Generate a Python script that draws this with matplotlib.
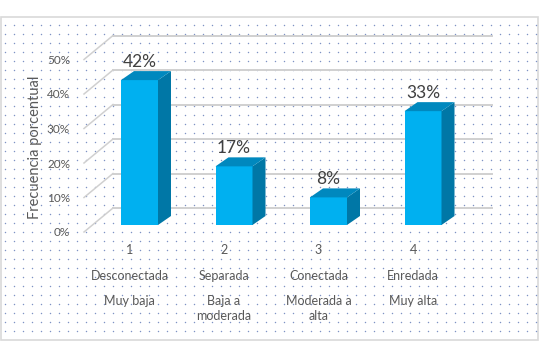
import numpy as np
import matplotlib
matplotlib.use("Agg")
import matplotlib.pyplot as plt
from matplotlib.patches import Polygon, Rectangle

plt.rcParams['font.family'] = ['Lato', 'DejaVu Sans']

# data
codes = ["1", "2", "3", "4"]
names = ["Desconectada", "Separada", "Conectada", "Enredada"]
levels = ["Muy baja", "Baja a\nmoderada", "Moderada a\nalta", "Muy alta"]
values = [0.42, 0.17, 0.08, 0.33]
value_labels = ["42%", "17%", "8%", "33%"]
yticks = [0.0, 0.1, 0.2, 0.3, 0.4, 0.5]
ytick_labels = ["0%", "10%", "20%", "30%", "40%", "50%"]

W, H = 540, 350
# pixel layout of the front plane: bar 0 centre and the 0% baseline
X0, STEP = 139.5, 94.5
Y0, SCALE = 225.0, 345.0


def px_x(px):
    return (px - X0) / STEP


def px_y(py):
    return (Y0 - py) / SCALE


def dx(px):
    return px / STEP


def dy(px):
    return px / SCALE


front = "#00B0F0"
side = "#0077A6"
top = "#0088BE"
txt = "#595959"
grid = "#D0D0D0"

fig = plt.figure(figsize=(W / 100, H / 100), dpi=100)
ax = fig.add_axes([0, 0, 1, 1])
ax.set_xlim(px_x(0), px_x(W))
ax.set_ylim(px_y(H), px_y(0))
ax.axis("off")

# chart area frame with dotted fill
ax.add_patch(Rectangle((px_x(1), px_y(340)), dx(537), dy(323),
                       facecolor="white", edgecolor="#D9D9D9", lw=1.2, zorder=0))
gx, gy = np.meshgrid(np.arange(5, 537, 9), np.arange(25, 338, 9))
ax.scatter(px_x(gx.ravel()), px_y(gy.ravel()), s=1.1, c="#7F92C4",
           linewidths=0, zorder=1)

# walls: back gridlines + left-wall diagonals
for v in yticks:
    back = v + dy(17)
    ax.plot([px_x(113), px_x(492)], [back, back], color=grid, lw=1.4, zorder=2)
    ax.plot([px_x(84), px_x(113)], [v - dy(7), back], color=grid, lw=1.1, zorder=2)

for v, lab in zip(yticks, ytick_labels):
    ax.text(px_x(70), v - dy(8), lab, ha="right", va="center",
            fontsize=8.5, color=txt, zorder=3)

ax.text(px_x(35), px_y(147), "Frecuencia porcentual", rotation=90,
        ha="center", va="center", fontsize=10.5, color=txt, zorder=3)

# 3D-looking bars
bw = dx(37)
ddx, ddy = dx(13), dy(9)
x = np.arange(len(values))
ax.bar(x, values, width=bw, color=front, zorder=5)
for xi, v in zip(x, values):
    l, r = xi - bw / 2, xi + bw / 2
    ax.add_patch(Polygon([(r, 0), (r + ddx, ddy), (r + ddx, v + ddy), (r, v)],
                         closed=True, facecolor=side, edgecolor="none", zorder=5))
    ax.add_patch(Polygon([(l, v), (r, v), (r + ddx, v + ddy), (l + ddx, v + ddy)],
                         closed=True, facecolor=top, edgecolor="none", zorder=5))

for xi, v, lab in zip(x, values, value_labels):
    ax.text(xi, v + dy(18), lab, ha="center", va="center",
            fontsize=12.5, color="#404040", zorder=6)

# category labels
for xi, c, n, lv in zip(x, codes, names, levels):
    cx = xi - dx(10)
    ax.text(cx, px_y(250), c, ha="center", va="center", fontsize=9, color=txt)
    ax.text(cx, px_y(276), n, ha="center", va="center", fontsize=9, color=txt)
    ax.text(cx, px_y(295), lv, ha="center", va="top", fontsize=9, color=txt,
            linespacing=1.25)

fig.savefig("out.png", dpi=100)
